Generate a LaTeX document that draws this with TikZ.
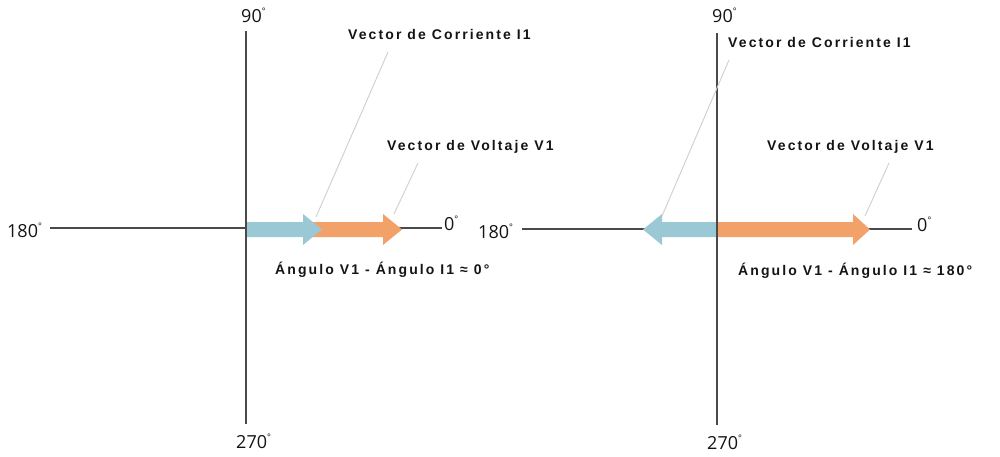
\documentclass[tikz,border=0pt]{standalone}
\usepackage{fontspec}
\setmainfont{Liberation Sans}
\newfontfamily\axisfont{Open Sans}
\newfontfamily\labfont[LetterSpace=15]{Liberation Sans Bold}
\newcommand\smalldeg{\raisebox{8pt}{\fontsize{9}{9}\selectfont °}}
\definecolor{ivblue}{HTML}{9BC8D5}
\definecolor{ivorange}{HTML}{F2A268}
\definecolor{axisgray}{HTML}{4A4A4A}
\definecolor{leadgray}{HTML}{CFCFCF}
\definecolor{txt}{HTML}{141414}
\tikzset{
  axisline/.style={draw=axisgray, line width=1.9pt},
  leader/.style={draw=leadgray, line width=0.9pt},
  veclabel/.style={font=\labfont\fontsize{14}{16}\selectfont, anchor=base west, inner sep=0pt, text=txt},
  deglabel/.style={font=\axisfont\fontsize{18}{20}\selectfont, anchor=base west, inner sep=0pt, text=txt},
}
\begin{document}
\begin{tikzpicture}[x=1pt,y=-1pt]
\useasboundingbox[fill=white] (0,0) rectangle (1000,457);

% ---------- Left diagram ----------
\coordinate (Lw) at (50,228);
\coordinate (Le) at (442,228);
\coordinate (Ln) at (246,31);
\coordinate (Ls) at (246,424);
\draw[axisline] (Lw) -- (Le);
\fill[ivorange] (305,222) -- (383,222) -- (383,214) -- (402,229.5) -- (383,245) -- (383,237) -- (305,237) -- cycle;
\fill[ivblue] (247,222) -- (303,222) -- (303,214) -- (322,229.5) -- (303,245) -- (303,237) -- (247,237) -- cycle;
\draw[axisline] (Ln) -- (Ls);

\node[deglabel] (L180) at (7,237) {180\smalldeg};
\node[deglabel] (L0) at (444,230) {0\smalldeg};
\node[deglabel] (L90) at (241,22.5) {90\smalldeg};
\node[deglabel] (L270) at (236,448) {270\smalldeg};

\node[veclabel] (LcI) at (348,39.5) {Vector de Corriente I1};
\node[veclabel] (LvV) at (387,150.5) {Vector de Voltaje V1};
\node[veclabel] (Lang) at (275,274) {Ángulo V1 - Ángulo I1 ≈ 0°};

\coordinate (LcA) at (316,217);
\coordinate (LcB) at (388,52);
\coordinate (LvA) at (394,214);
\coordinate (LvB) at (418,163);
\draw[leader] (LcA) -- (LcB);
\draw[leader] (LvA) -- (LvB);

% ---------- Right diagram ----------
\coordinate (Rw) at (522,229);
\coordinate (Re) at (912,229);
\coordinate (Rn) at (717,33);
\coordinate (Rs) at (717,425);
\draw[axisline] (Rw) -- (Re);
\fill[ivorange] (717,222) -- (853,222) -- (853,214) -- (870,229.5) -- (853,245) -- (853,237) -- (717,237) -- cycle;
\fill[ivblue] (717,222) -- (662,222) -- (662,214) -- (643,229.5) -- (662,245) -- (662,237) -- (717,237) -- cycle;
\draw[axisline] (Rn) -- (Rs);

\node[deglabel] (R180) at (478,238) {180\smalldeg};
\node[deglabel] (R0) at (917,231) {0\smalldeg};
\node[deglabel] (R90) at (712,22.5) {90\smalldeg};
\node[deglabel] (R270) at (707,449) {270\smalldeg};

\node[veclabel] (RcI) at (728,47.5) {Vector de Corriente I1};
\node[veclabel] (RvV) at (767,150.5) {Vector de Voltaje V1};
\node[veclabel] (Rang) at (738,275) {Ángulo V1 - Ángulo I1 ≈ 180°};

\coordinate (RcA) at (662,216);
\coordinate (RcB) at (729,60);
\coordinate (RvA) at (865,216);
\coordinate (RvB) at (889,163);
\draw[leader] (RcA) -- (RcB);
\draw[leader] (RvA) -- (RvB);
\end{tikzpicture}
\end{document}
